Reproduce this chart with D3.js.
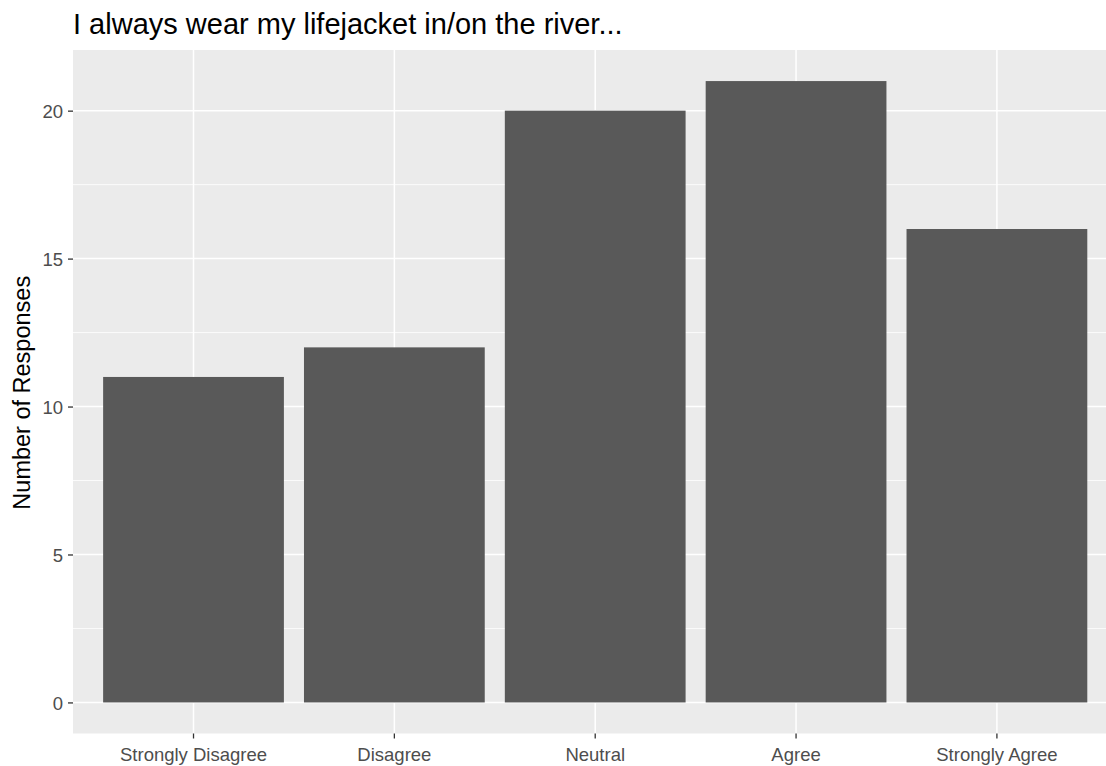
<!DOCTYPE html>
<html><head><meta charset="utf-8">
<script src="https://cdn.jsdelivr.net/npm/d3@7"></script>
<style>body{margin:0;background:#fff}svg{display:block}text{font-family:"Liberation Sans",Arial,sans-serif}</style>
</head><body><svg id="c" width="1106" height="766"></svg>
<script>
const categories = ["Strongly Disagree","Disagree","Neutral","Agree","Strongly Agree"];
const counts = [11,12,20,21,16];
const yTicks = [0,5,10,15,20];
const yMinor = [2.5,7.5,12.5,17.5];
const title = "I always wear my lifejacket in/on the river...";
const yTitle = "Number of Responses";

const svg = d3.select("#c");
const L = 73, T = 50, B = 733.5;
const step = 200.85;
const R = L + step * 5.2;
const ymax = d3.max(counts);
const y = d3.scaleLinear().domain([-ymax*0.05, ymax*1.05]).range([B, T]);
const x = d3.scaleBand().domain(categories).range([L + step*0.1, R - step*0.1]).paddingInner(0.1).paddingOuter(0.05);
const xc = c => x(c) + x.bandwidth()/2;

svg.append("rect").attr("x", L).attr("y", T).attr("width", R-L).attr("height", B-T).attr("fill", "#EBEBEB");
const g = svg.append("g");
g.selectAll(".ymin").data(yMinor).join("line").attr("x1", L).attr("x2", R)
  .attr("y1", d=>y(d)).attr("y2", d=>y(d)).attr("stroke","#fff").attr("stroke-width",0.8);
g.selectAll(".ymaj").data(yTicks).join("line").attr("x1", L).attr("x2", R)
  .attr("y1", d=>y(d)).attr("y2", d=>y(d)).attr("stroke","#fff").attr("stroke-width",1.5);
g.selectAll(".xmaj").data(categories).join("line").attr("y1", T).attr("y2", B)
  .attr("x1", d=>xc(d)).attr("x2", d=>xc(d)).attr("stroke","#fff").attr("stroke-width",1.5);

g.selectAll(".bar").data(categories).join("rect")
  .attr("x", d=>x(d)).attr("width", x.bandwidth())
  .attr("y", (d,i)=>y(counts[i])).attr("height", (d,i)=>y(0)-y(counts[i]))
  .attr("fill","#595959");

const ya = svg.append("g").attr("transform",`translate(${L},0)`)
  .call(d3.axisLeft(y).tickValues(yTicks).tickSize(5).tickPadding(5));
const xa = svg.append("g").attr("transform",`translate(0,${B})`)
  .call(d3.axisBottom(x).tickSize(5).tickPadding(8));
[ya, xa].forEach(a => {
  a.select(".domain").remove();
  a.selectAll(".tick line").attr("stroke","#333").attr("stroke-width",1.3);
  a.selectAll(".tick text").attr("fill","#4D4D4D").style("font-size","18.5px").attr("font-family", '"Liberation Sans",Arial,sans-serif');
});
ya.selectAll(".tick text").attr("dy","0.36em");
xa.selectAll(".tick text").attr("dy","0.78em");

svg.append("text").attr("x", L).attr("y", 34).text(title).attr("fill","#000").style("font-size","29px");
svg.append("text").attr("transform",`translate(30,${(T+B)/2 + 1}) rotate(-90)`).attr("text-anchor","middle")
  .text(yTitle).attr("fill","#000").style("font-size","23.5px");
</script></body></html>
